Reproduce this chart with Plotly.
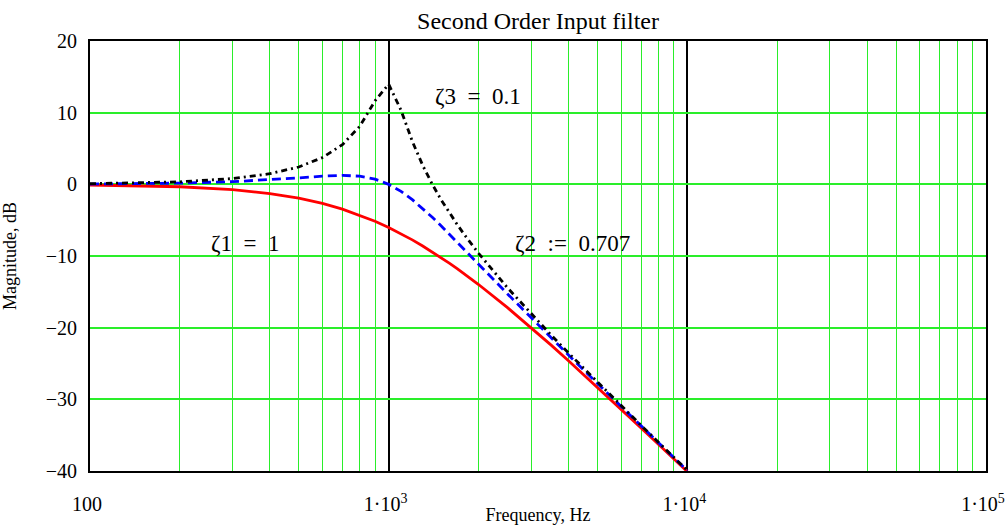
import math

import plotly.graph_objects as go

# frequency samples, Hz
freq_hz = [
    100, 200, 300, 400, 500, 600, 700, 800, 900, 1000,
    1100, 1200, 1300, 1400, 1500, 1600, 1700, 1800, 1900, 2000,
    2500, 3000, 3500, 4000, 5000, 6000, 7000, 8000, 9000, 10000,
]

# magnitude, dB
mag_z1 = [
    -0.09, -0.34, -0.75, -1.29, -1.94, -2.67, -3.46, -4.30, -5.15, -6.02,
    -6.89, -7.75, -8.60, -9.43, -10.24, -11.03, -11.80, -12.55, -13.27, -13.98,
    -17.21, -20.00, -22.44, -24.61, -28.30, -31.36, -33.98, -36.26, -38.28, -40.09,
]
mag_z2 = [
    0.04, 0.17, 0.37, 0.63, 0.90, 1.14, 1.25, 1.14, 0.73, 0.00,
    -0.98, -2.13, -3.36, -4.60, -5.81, -6.98, -8.10, -9.17, -10.18, -11.14,
    -15.29, -18.63, -21.42, -23.82, -27.79, -31.01, -33.72, -36.06, -38.12, -39.96,
]
mag_z3 = [
    0.09, 0.35, 0.80, 1.48, 2.42, 3.73, 5.53, 8.09, 11.64, 13.98,
    10.34, 6.00, 2.65, 0.00, -2.18, -4.04, -5.67, -7.12, -8.42, -9.62,
    -14.44, -18.09, -21.04, -23.53, -27.61, -30.89, -33.63, -35.99, -38.06, -39.92,
]

major_ticks = [100, 1000, 10000, 100000]
major_text = ["100", "1\u00b710<sup>3</sup>", "1\u00b710<sup>4</sup>", "1\u00b710<sup>5</sup>"]
minor_ticks = [m * d for d in (100, 1000, 10000) for m in range(2, 10)]
y_ticks = [-40, -30, -20, -10, 0, 10, 20]
y_text = ["\u221240", "\u221230", "\u221220", "\u221210", "0", "10", "20"]

# label text, frequency (Hz), level (dB)
labels = [
    ("\u03b61  =  1", 331, -8.3),
    ("\u03b62  :=  0.707", 4110, -8.3),
    ("\u03b63  =  0.1", 1990, 12.3),
]

GRID = "#2aee2a"
FONT = "Liberation Serif, Times New Roman, serif"

fig = go.Figure()
fig.add_trace(go.Scatter(x=freq_hz, y=mag_z1, mode="lines",
                         line={"color": "#ff0000", "width": 2.8}, showlegend=False))
fig.add_trace(go.Scatter(x=freq_hz, y=mag_z2, mode="lines",
                         line={"color": "#0000ff", "width": 2.8, "dash": "9px,5px"}, showlegend=False))
fig.add_trace(go.Scatter(x=freq_hz, y=mag_z3, mode="lines",
                         line={"color": "#000000", "width": 2.8, "dash": "6px,4px,2px,4px"}, showlegend=False))

for text, fx, fy in labels:
    fig.add_annotation(x=math.log10(fx), y=fy, text=text, showarrow=False,
                       font={"family": FONT, "size": 23, "color": "#000000"})

fig.update_layout(
    width=1008,
    height=525,
    paper_bgcolor="white",
    plot_bgcolor="white",
    margin={"l": 90, "r": 22, "t": 41, "b": 54, "autoexpand": False},
    font={"family": FONT, "size": 20, "color": "#000000"},
    title={"text": "Second Order Input filter", "x": 0.5, "xref": "paper", "xanchor": "center",
           "y": 1 - 21 / 525, "yref": "container", "yanchor": "middle",
           "font": {"family": FONT, "size": 24}},
    xaxis={
        "type": "log",
        "range": [2, 5],
        "tickvals": major_ticks,
        "ticktext": major_text,
        "ticks": "",
        "showgrid": True,
        "gridcolor": "#000000",
        "gridwidth": 1.5,
        "minor": {"tickvals": minor_ticks, "showgrid": True, "gridcolor": GRID, "gridwidth": 1, "ticks": ""},
        "showline": True,
        "mirror": True,
        "linecolor": "#000000",
        "linewidth": 2,
        "zeroline": False,
        "automargin": False,
        "ticklabelstandoff": 14,
        "ticklabelshift": -3,
        "tickfont": {"family": FONT, "size": 20},
        "title": {"text": "Frequency, Hz", "font": {"family": FONT, "size": 18}, "standoff": 0},
    },
    yaxis={
        "range": [-40, 20],
        "tickvals": y_ticks,
        "ticktext": y_text,
        "ticks": "",
        "showgrid": True,
        "gridcolor": GRID,
        "gridwidth": 1.5,
        "showline": True,
        "mirror": True,
        "linecolor": "#000000",
        "linewidth": 2,
        "zeroline": False,
        "automargin": False,
        "ticklabelstandoff": 7,
        "tickfont": {"family": FONT, "size": 20},
        "title": {"text": "Magnitude, dB", "font": {"family": FONT, "size": 18}, "standoff": 24},
    },
)

fig.write_html("out.html", config={"displayModeBar": False},
               post_script="document.body.style.margin = '0';")
